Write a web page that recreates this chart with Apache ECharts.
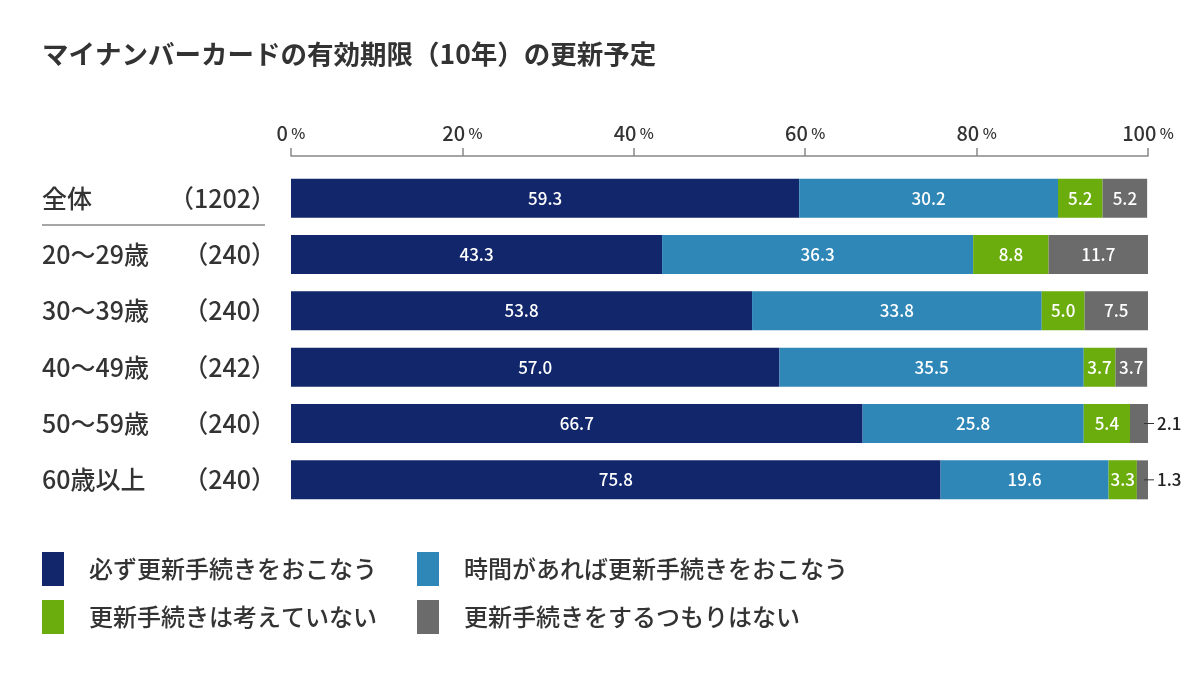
<!DOCTYPE html>
<html>
<head>
<meta charset="utf-8">
<script src="https://cdn.jsdelivr.net/npm/echarts@6/dist/echarts.min.js"></script>
<style>html,body{margin:0;padding:0;background:#fff}#c{width:1200px;height:677px}</style>
</head>
<body>
<div id="c"></div>
<script>
const titleText = 'マイナンバーカードの有効期限（10年）の更新予定';
const categories = ['全体', '20〜29歳', '30〜39歳', '40〜49歳', '50〜59歳', '60歳以上'];
const counts = ['（1202）', '（240）', '（240）', '（242）', '（240）', '（240）'];
const seriesNames = ['必ず更新手続きをおこなう', '時間があれば更新手続きをおこなう', '更新手続きは考えていない', '更新手続きをするつもりはない'];
const s1 = [59.3, 43.3, 53.8, 57.0, 66.7, 75.8];
const s2 = [30.2, 36.3, 33.8, 35.5, 25.8, 19.6];
const s3 = [5.2, 8.8, 5.0, 3.7, 5.4, 3.3];
const s4 = [5.2, 11.7, 7.5, 3.7, 2.1, 1.3];
const colors = ['#12276b', '#2f87b8', '#6aad0c', '#6b6b6b'];
const FONT = '"Noto Sans CJK JP", "Noto Sans", sans-serif';

const chart = echarts.init(document.getElementById('c'), null, {renderer: 'canvas'});

function makeSeries(name, vals, color, idx) {
  return {
    name: name,
    type: 'bar',
    stack: 'total',
    barWidth: 39,
    itemStyle: {color: color},
    label: {
      show: true,
      position: 'inside',
      color: '#fff',
      fontSize: 17,
      fontWeight: 500,
      fontFamily: FONT,
      formatter: p => p.value.toFixed(1)
    },
    data: vals.map(v => {
      if (idx === 3 && v < 3) {
        return {
          value: v,
          label: {
            position: 'right',
            distance: -4,
            color: '#222',
            formatter: p => '{ln|}{t|' + p.value.toFixed(1) + '}',
            rich: {
              ln: {width: 10, height: 1, backgroundColor: '#333'},
              t: {color: '#222', fontSize: 17, fontWeight: 500, fontFamily: FONT, padding: [0, 0, 0, 3]}
            }
          }
        };
      }
      return v;
    })
  };
}

const option = {
  backgroundColor: '#fff',
  animation: false,
  textStyle: {fontFamily: FONT},
  title: {
    text: titleText,
    left: 42,
    top: 41,
    padding: 0,
    textStyle: {fontSize: 26.5, fontWeight: 'bold', color: '#333', fontFamily: FONT}
  },
  grid: {left: 291, right: 52, top: 170, height: 338, containLabel: false},
  xAxis: {
    type: 'value',
    position: 'top',
    min: 0,
    max: 100,
    interval: 20,
    offset: 14,
    axisLine: {show: true, lineStyle: {color: '#888', width: 1.5}},
    axisTick: {show: true, length: 8, lineStyle: {color: '#888', width: 1.5}},
    splitLine: {show: false},
    axisLabel: {
      margin: 13,
      formatter: v => '{n|' + v + '}{p| %}',
      rich: {
        n: {fontSize: 20, fontWeight: 500, color: '#333', fontFamily: FONT},
        p: {fontSize: 15, fontWeight: 500, color: '#333', fontFamily: FONT}
      }
    }
  },
  yAxis: {
    type: 'category',
    inverse: true,
    data: categories,
    axisLine: {show: false},
    axisTick: {show: false},
    axisLabel: {
      margin: 15,
      formatter: (v, i) => '{n|' + v + '}{c|' + counts[i] + '}',
      rich: {
        n: {width: 126, align: 'left', fontSize: 25, fontWeight: 500, color: '#333', fontFamily: FONT},
        c: {width: 108, align: 'right', fontSize: 25, fontWeight: 500, color: '#333', fontFamily: FONT}
      }
    }
  },
  legend: [
    {
      orient: 'vertical', left: 42, top: 552, padding: 0,
      itemWidth: 22, itemHeight: 34, itemGap: 14, icon: 'rect', selectedMode: false,
      data: [seriesNames[0], seriesNames[2]],
      textStyle: {fontSize: 24, fontWeight: 500, color: '#333', fontFamily: FONT, padding: [0, 0, 0, 20]}
    },
    {
      orient: 'vertical', left: 417, top: 552, padding: 0,
      itemWidth: 22, itemHeight: 34, itemGap: 14, icon: 'rect', selectedMode: false,
      data: [seriesNames[1], seriesNames[3]],
      textStyle: {fontSize: 24, fontWeight: 500, color: '#333', fontFamily: FONT, padding: [0, 0, 0, 20]}
    }
  ],
  graphic: [
    {type: 'line', shape: {x1: 42, y1: 225, x2: 265, y2: 225}, style: {stroke: '#888', lineWidth: 1.5}}
  ],
  series: [
    makeSeries(seriesNames[0], s1, colors[0], 0),
    makeSeries(seriesNames[1], s2, colors[1], 1),
    makeSeries(seriesNames[2], s3, colors[2], 2),
    makeSeries(seriesNames[3], s4, colors[3], 3)
  ]
};
chart.setOption(option);
</script>
</body>
</html>
